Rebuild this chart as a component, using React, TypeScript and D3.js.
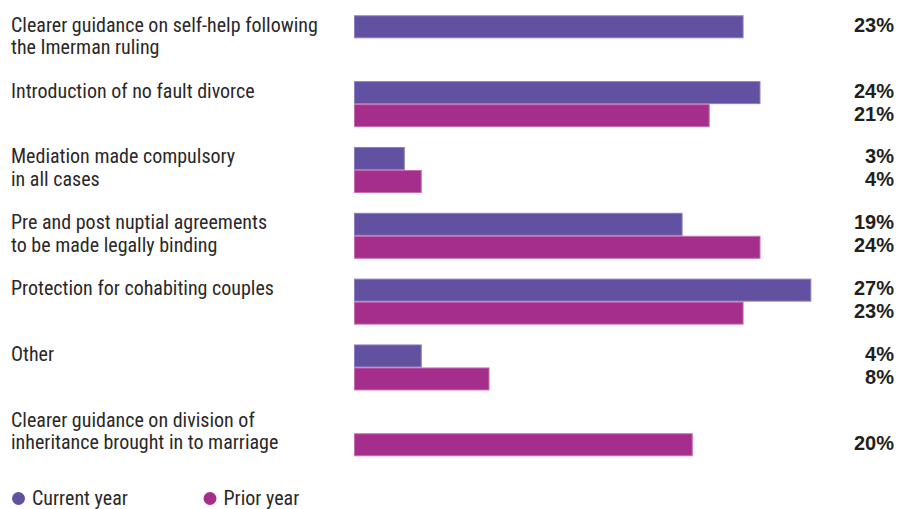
import React from "react";
import * as d3 from "d3";

const categories: string[][] = [
  ["Clearer guidance on self-help following", "the Imerman ruling"],
  ["Introduction of no fault divorce"],
  ["Mediation made compulsory", "in all cases"],
  ["Pre and post nuptial agreements", "to be made legally binding"],
  ["Protection for cohabiting couples"],
  ["Other"],
  ["Clearer guidance on division of", "inheritance brought in to marriage"],
];
const currentYear: (number | null)[] = [23, 24, 3, 19.4, 27, 4, null];
const currentLabels: (string | null)[] = ["23%", "24%", "3%", "19%", "27%", "4%", null];
const priorYear: (number | null)[] = [null, 21, 4, 24, 23, 8, 20];
const priorLabels: (string | null)[] = [null, "21%", "4%", "24%", "23%", "8%", "20%"];
const seriesNames = ["Current year", "Prior year"];

const W = 911;
const H = 509;
const COLORS = ["#6251a1", "#a52e8d"];
const STROKES = ["#8b7fc0", "#c46db1"];
const FONT = "'Liberation Sans Narrow', 'Arial Narrow', 'Roboto Condensed', sans-serif";
const VFONT = "'Liberation Sans', Arial, sans-serif";
const TEXT = "#231f20";

export default function App() {
  const ids = categories.map((_, i) => String(i));
  const x = d3.scaleLinear().domain([0, 24]).range([354, 760.5]);
  const y = d3.scaleBand<string>().domain(ids).range([15.3, 15.3 + 65.83 * 7]);
  const sub = d3.scaleBand<string>().domain(["c", "p"]).range([0, 46]);
  const series = [
    { key: "c", values: currentYear, labels: currentLabels },
    { key: "p", values: priorYear, labels: priorLabels },
  ];
  return (
    <svg width={W} height={H} style={{ position: "absolute", left: 0, top: 0, background: "#fff" }}>
      {ids.map((id, i) => {
        const top = y(id)!;
        return (
          <g key={id}>
            <text x={11} y={top + 16.5} fontFamily={FONT} fontSize={20} fill="#2b2829">
              {categories[i].map((line, j) => (
                <tspan key={j} x={11} dy={j === 0 ? 0 : 22.5}>{line}</tspan>
              ))}
            </text>
            {series.map((s, k) => {
              const v = s.values[i];
              if (v == null) return null;
              const by = top + sub(s.key)!;
              const bh = sub.bandwidth();
              return (
                <g key={s.key}>
                  <rect
                    x={x(0) + 0.5}
                    y={by + 0.5}
                    width={x(v) - x(0) - 1}
                    height={bh - 1}
                    fill={COLORS[k]}
                    stroke={STROKES[k]}
                    strokeWidth={1}
                  />
                  <text
                    x={894}
                    y={by + 16.5}
                    textAnchor="end"
                    fontFamily={VFONT}
                    fontWeight="bold"
                    fontSize={20}
                    fill={TEXT}
                  >
                    {s.labels[i]}
                  </text>
                </g>
              );
            })}
          </g>
        );
      })}
      {seriesNames.map((n, k) => {
        const lx = k === 0 ? 18.5 : 210;
        return (
          <g key={n}>
            <circle cx={lx} cy={498.5} r={6.5} fill={COLORS[k]} />
            <text x={lx + 13.5} y={505} fontFamily={FONT} fontSize={20} fill="#2b2829">{n}</text>
          </g>
        );
      })}
    </svg>
  );
}
